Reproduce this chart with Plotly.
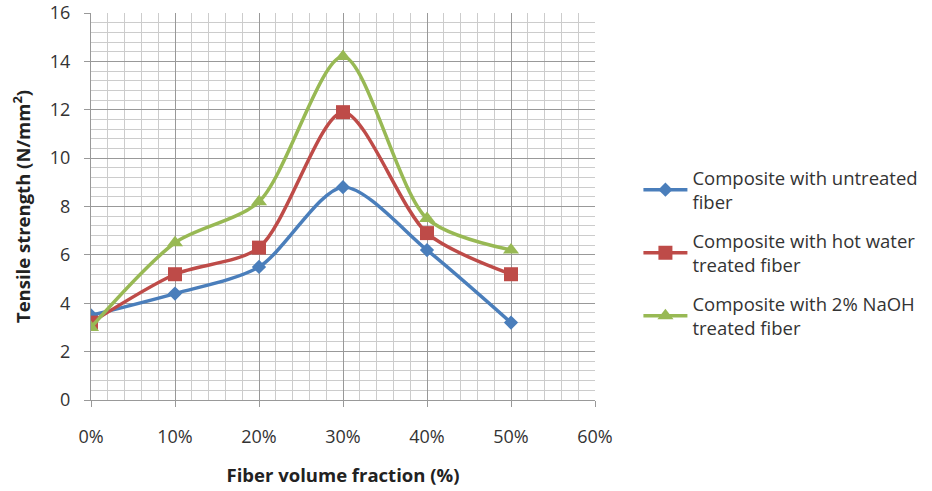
import plotly.graph_objects as go

x_vals = [0, 10, 20, 30, 40, 50]
untreated = [3.5, 4.4, 5.5, 8.8, 6.2, 3.2]
hot_water = [3.2, 5.2, 6.3, 11.9, 6.9, 5.2]
naoh = [3.0, 6.5, 8.2, 14.2, 7.5, 6.2]
names = ["Composite with untreated<br>fiber",
         "Composite with hot water<br>treated fiber",
         "Composite with 2% NaOH<br>treated fiber"]
colors = ["#4a7ebb", "#be4b48", "#98b954"]
symbols = ["diamond", "square", "triangle-up"]
sizes = [11, 14, 14]
x_ticks = [0, 10, 20, 30, 40, 50, 60]
x_tick_text = ["0%", "10%", "20%", "30%", "40%", "50%", "60%"]

fig = go.Figure()
for i, (ys, nm, c, s, sz) in enumerate(zip([untreated, hot_water, naoh], names, colors, symbols, sizes)):
    fig.add_trace(go.Scatter(
        x=x_vals, y=ys, name=nm, mode="lines+markers", legendgroup=f"g{i}",
        line=dict(color=c, width=3.5, shape="spline", smoothing=0.8),
        marker=dict(symbol=s, size=sz, color=c),
    ))

font_fam = "Open Sans, Lato, sans-serif"
fig.update_layout(
    width=932, height=491,
    margin=dict(l=91, r=337, t=13, b=91),
    paper_bgcolor="white", plot_bgcolor="white",
    font=dict(family=font_fam, size=18, color="#333333"),
    showlegend=True,
    legend=dict(xref="container", yref="container", x=0.685, y=0.676,
                xanchor="left", yanchor="top",
                font=dict(size=18.5, color="#333333"),
                tracegroupgap=12, itemwidth=44, bgcolor="rgba(0,0,0,0)"),
)
fig.update_xaxes(
    range=[0, 60], tickvals=x_ticks, ticktext=x_tick_text, automargin=False,
    showgrid=True, gridcolor="#999999", gridwidth=1,
    minor=dict(dtick=2, showgrid=True, gridcolor="#cccccc", gridwidth=1),
    showline=True, linecolor="#999999", linewidth=1,
    ticks="outside", ticklen=6, tickcolor="#999999",
    ticklabelstandoff=14,
    zeroline=False,
    title=dict(text="<b>Fiber volume fraction (%)</b>", font=dict(size=18.5, color="#222222"), standoff=22),
)
fig.update_yaxes(
    range=[0, 16], dtick=2, automargin=False,
    showgrid=True, gridcolor="#999999", gridwidth=1,
    minor=dict(dtick=0.4, showgrid=True, gridcolor="#cccccc", gridwidth=1),
    showline=True, linecolor="#999999", linewidth=1,
    ticks="outside", ticklen=6, tickcolor="#999999",
    ticklabelstandoff=10,
    zeroline=False,
    title=dict(text="<b>Tensile strength (N/mm<sup>2</sup>)</b>", font=dict(size=18.5, color="#222222"), standoff=14),
)
fig.write_html("out.html")
